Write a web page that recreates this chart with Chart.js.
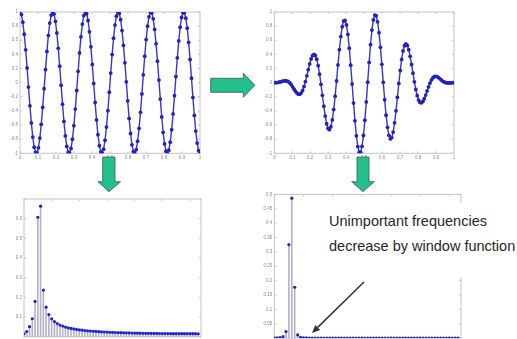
<!DOCTYPE html>
<html><head><meta charset="utf-8">
<script src="https://cdn.jsdelivr.net/npm/chart.js@4.4.0/dist/chart.umd.min.js"></script>
<style>
html,body{margin:0;padding:0;background:#fff;}
#wrap{position:relative;width:517px;height:339px;overflow:hidden;background:#fff;}
canvas{position:absolute;}
svg{position:absolute;left:0;top:0;}
</style></head>
<body><div id="wrap">
<canvas id="tl" width="210" height="165" style="left:0;top:0;width:210px;height:165px"></canvas>
<canvas id="tr" width="262" height="165" style="left:255px;top:0;width:262px;height:165px"></canvas>
<canvas id="bl" width="210" height="170" style="left:0;top:180px;width:210px;height:170px"></canvas>
<canvas id="br" width="262" height="170" style="left:255px;top:180px;width:262px;height:170px"></canvas>
<svg width="517" height="339">
  <polygon points="210.7,78.3 243.3,78.3 243.3,73.3 255,85.3 243.3,97.3 243.3,92.3 210.7,92.3" fill="#23c08d" stroke="#3d5a55" stroke-width="0.8"/>
  <polygon points="102.7,157 115,157 115,181.7 120.5,181.7 109,191.7 98,181.7 102.7,181.7" fill="#23c08d" stroke="#3d5a55" stroke-width="0.8"/>
  <polygon points="357,157 369,157 369,181.7 374.3,181.7 363,191.7 351.7,181.7 357,181.7" fill="#23c08d" stroke="#3d5a55" stroke-width="0.8"/>
  <rect x="322" y="203" width="195" height="75" fill="#fff"/>
  <text x="329" y="226" font-family="Liberation Sans, Arial, sans-serif" font-size="14.5" fill="#262626">Unimportant frequencies</text>
  <text x="329" y="250.5" font-family="Liberation Sans, Arial, sans-serif" font-size="14.5" fill="#262626">decrease by window function</text>
  <line x1="364" y1="282" x2="317.7" y2="327.4" stroke="#333" stroke-width="1.5"/>
  <polygon points="312,333 320.2,329.9 315.3,324.9" fill="#333"/>
</svg>
</div>
<script>
// sample times (128 samples over 0..1)
const sampleTimes = [0,0.0079,0.0157,0.0236,0.0315,0.0394,0.0472,0.0551,0.0630,0.0709,0.0787,0.0866,0.0945,0.1024,0.1102,0.1181,0.1260,0.1339,0.1417,0.1496,0.1575,0.1654,0.1732,0.1811,0.1890,0.1969,0.2047,0.2126,0.2205,0.2283,0.2362,0.2441,0.2520,0.2598,0.2677,0.2756,0.2835,0.2913,0.2992,0.3071,0.3150,0.3228,0.3307,0.3386,0.3465,0.3543,0.3622,0.3701,0.3780,0.3858,0.3937,0.4016,0.4094,0.4173,0.4252,0.4331,0.4409,0.4488,0.4567,0.4646,0.4724,0.4803,0.4882,0.4961,0.5039,0.5118,0.5197,0.5276,0.5354,0.5433,0.5512,0.5591,0.5669,0.5748,0.5827,0.5906,0.5984,0.6063,0.6142,0.6220,0.6299,0.6378,0.6457,0.6535,0.6614,0.6693,0.6772,0.6850,0.6929,0.7008,0.7087,0.7165,0.7244,0.7323,0.7402,0.7480,0.7559,0.7638,0.7717,0.7795,0.7874,0.7953,0.8031,0.8110,0.8189,0.8268,0.8346,0.8425,0.8504,0.8583,0.8661,0.8740,0.8819,0.8898,0.8976,0.9055,0.9134,0.9213,0.9291,0.9370,0.9449,0.9528,0.9606,0.9685,0.9764,0.9843,0.9921,1];

// raw signal (top left)
const rawSignal = [1,0.963,0.855,0.685,0.464,0.209,-0.062,-0.328,-0.570,-0.770,-0.913,-0.989,-0.992,-0.923,-0.785,-0.590,-0.351,-0.086,0.184,0.442,0.667,0.843,0.956,1.000,0.970,0.868,0.703,0.486,0.233,-0.037,-0.304,-0.549,-0.754,-0.903,-0.985,-0.995,-0.932,-0.800,-0.609,-0.374,-0.111,0.160,0.420,0.648,0.829,0.949,0.999,0.975,0.880,0.720,0.507,0.257,-0.012,-0.281,-0.528,-0.737,-0.892,-0.980,-0.997,-0.941,-0.815,-0.629,-0.397,-0.136,0.136,0.397,0.629,0.815,0.941,0.997,0.980,0.892,0.737,0.528,0.281,0.012,-0.257,-0.507,-0.720,-0.880,-0.975,-0.999,-0.949,-0.829,-0.648,-0.420,-0.160,0.111,0.374,0.609,0.800,0.932,0.995,0.985,0.903,0.754,0.549,0.304,0.037,-0.233,-0.486,-0.703,-0.868,-0.970,-1.000,-0.956,-0.843,-0.667,-0.442,-0.184,0.086,0.351,0.590,0.785,0.923,0.992,0.989,0.913,0.770,0.570,0.328,0.062,-0.209,-0.464,-0.685,-0.855,-0.963,-1.000];

// windowed signal (top right)
const windowedSignal = [0,0.000,0.001,0.004,0.009,0.015,0.021,0.026,0.027,0.023,0.013,-0.005,-0.030,-0.060,-0.092,-0.123,-0.148,-0.163,-0.164,-0.147,-0.111,-0.056,0.015,0.097,0.183,0.265,0.335,0.382,0.400,0.384,0.331,0.240,0.120,-0.024,-0.180,-0.334,-0.473,-0.582,-0.649,-0.665,-0.624,-0.528,-0.380,-0.191,0.025,0.251,0.466,0.652,0.792,0.871,0.880,0.816,0.682,0.488,0.247,-0.019,-0.289,-0.541,-0.752,-0.905,-0.984,-0.984,-0.903,-0.748,-0.532,-0.273,0.007,0.286,0.538,0.744,0.888,0.956,0.947,0.861,0.707,0.500,0.259,0.004,-0.242,-0.460,-0.632,-0.746,-0.796,-0.778,-0.699,-0.568,-0.399,-0.208,-0.012,0.172,0.329,0.449,0.522,0.548,0.527,0.466,0.372,0.257,0.134,0.012,-0.097,-0.185,-0.247,-0.280,-0.286,-0.267,-0.228,-0.176,-0.118,-0.060,-0.007,0.036,0.066,0.084,0.089,0.084,0.072,0.056,0.038,0.023,0.010,0.001,-0.004,-0.005,-0.004,-0.002,-0.001,0];

// frequency bins
const freqBins = [0,1,2,3,4,5,6,7,8,9,10,11,12,13,14,15,16,17,18,19,20,21,22,23,24,25,26,27,28,29,30,31,32,33,34,35,36,37,38,39,40,41,42,43,44,45,46,47,48,49,50,51,52,53,54,55,56,57,58,59,60,61,62,63];

// spectrum without window (bottom left)
const rawSpectrum = [0.0156,0.0269,0.0512,0.0916,0.1799,0.6072,0.6637,0.2373,0.1507,0.1128,0.0914,0.0773,0.0675,0.0600,0.0543,0.0496,0.0458,0.0426,0.0399,0.0375,0.0355,0.0337,0.0321,0.0306,0.0294,0.0282,0.0272,0.0262,0.0253,0.0245,0.0238,0.0231,0.0225,0.0219,0.0214,0.0209,0.0205,0.0201,0.0197,0.0193,0.0190,0.0186,0.0183,0.0181,0.0178,0.0176,0.0174,0.0172,0.0170,0.0168,0.0166,0.0165,0.0164,0.0162,0.0161,0.0160,0.0159,0.0159,0.0158,0.0158,0.0157,0.0157,0.0157,0.0156];

// spectrum with window (bottom right)
const windowedSpectrum = [0.001,0.001,0.002,0.005,0.023,0.325,0.487,0.177,0.011,0.003,0.0013,0.0007,0.0004,0.0003,0.0002,0.0002,0.0002,0.0002,0.0002,0.0002,0.0002,0.0002,0.0002,0.0002,0.0002,0.0002,0.0001,0.0001,0.0001,0.0001,0.0001,0.0001,0.0001,0.0001,0.0001,0.0001,0.0001,0.0001,0.0001,0.0001,0.0001,0.0001,0.0001,0.0001,0.0001,0.0001,0.0001,0.0001,0.0001,0.0001,0.0001,0.0001,0.0001,0.0001,0.0001,0.0001,0.0001,0.0001,0.0001,0.0001,0.0001,0.0001,0.0001,0.0001];

// tick values and labels
const timeTickValues = [0,0.1,0.2,0.3,0.4,0.5,0.6,0.7,0.8,0.9,1];
const timeTickLabels = ['0','0.1','0.2','0.3','0.4','0.5','0.6','0.7','0.8','0.9','1'];
const ampTickValues = [-1,-0.8,-0.6,-0.4,-0.2,0,0.2,0.4,0.6,0.8,1];
const ampTickLabels = ['-1','-0.8','-0.6','-0.4','-0.2','0','0.2','0.4','0.6','0.8','1'];
const binTickValues = [0,10,20,30,40,50,60];
const binTickLabels = ['0','10','20','30','40','50','60'];
const rawSpecTickValues = [0,0.1,0.2,0.3,0.4,0.5,0.6,0.7];
const rawSpecTickLabels = ['','0.1','0.2','0.3','0.4','0.5','0.6',''];
const winSpecTickValues = [0,0.05,0.1,0.15,0.2,0.25,0.3,0.35,0.4,0.45,0.5];
const winSpecTickLabels = ['','0.05','0.1','0.15','0.2','0.25','0.3','0.35','0.4','0.45','0.5'];

const TICK_FONT = {family:'Liberation Sans, Arial, sans-serif', size:4.5};
const TICK_COLOR = '#8a8a8a';

const framePlugin = {
  id:'frame',
  beforeDatasetsDraw(chart){
    const {ctx, chartArea:{left,top,right,bottom}, scales:{x,y}} = chart;
    ctx.save();
    ctx.strokeStyle = '#c4c4c4';
    ctx.lineWidth = 1;
    ctx.strokeRect(left, top, right-left, bottom-top);
    ctx.beginPath();
    x.ticks.forEach(t => {
      const px = x.getPixelForValue(t.value);
      ctx.moveTo(px, bottom); ctx.lineTo(px, bottom-2);
      ctx.moveTo(px, top); ctx.lineTo(px, top+2);
    });
    y.ticks.forEach(t => {
      const py = y.getPixelForValue(t.value);
      ctx.moveTo(left, py); ctx.lineTo(left+2, py);
      ctx.moveTo(right, py); ctx.lineTo(right-2, py);
    });
    ctx.stroke();
    ctx.restore();
  }
};

function axis(min, max, tickVals, tickLabels, fitProp, fitVal){
  return {
    type:'linear', min, max, offset:false,
    grid:{display:false, drawTicks:false},
    border:{display:false},
    afterBuildTicks(s){ s.ticks = tickVals.map(v => ({value:v})); },
    afterFit(s){ s[fitProp] = fitVal; },
    ticks:{ font:TICK_FONT, color:TICK_COLOR, padding:2, autoSkip:false, maxRotation:0,
      callback:(v,i) => tickLabels[i] }
  };
}

function lineChart(id, ys, geo){
  new Chart(document.getElementById(id), {
    type:'line',
    data:{datasets:[{
      data: sampleTimes.map((t,i) => ({x:t, y:ys[i]})),
      borderColor:'#3535d2', borderWidth:1.4, tension:0,
      pointRadius:1.9, pointBackgroundColor:'#2222bf', pointBorderWidth:0
    }]},
    options:{
      responsive:false, animation:false, devicePixelRatio:1,
      layout:{padding:{left:0, top:geo.top, right:geo.right, bottom:0}},
      plugins:{legend:{display:false}, tooltip:{enabled:false}},
      scales:{
        x: axis(0, 1, timeTickValues, timeTickLabels, 'height', geo.xh),
        y: axis(-1, 1, ampTickValues, ampTickLabels, 'width', geo.yw)
      }
    },
    plugins:[framePlugin]
  });
}

function stemChart(id, vals, ymax, yTickVals, yTickLabels, geo){
  const pts = freqBins.map((b,i) => ({x:b, y:vals[i]}));
  new Chart(document.getElementById(id), {
    data:{datasets:[
      {type:'bar', data:pts, backgroundColor:'#b4b4c6', barThickness:1, order:2},
      {type:'line', data:pts, showLine:false, pointRadius:1.6, pointBackgroundColor:'#2323c8', pointBorderWidth:0, order:1}
    ]},
    options:{
      responsive:false, animation:false, devicePixelRatio:1,
      layout:{padding:{left:0, top:geo.top, right:geo.right, bottom:0}},
      plugins:{legend:{display:false}, tooltip:{enabled:false}},
      scales:{
        x: axis(0, 64, binTickValues, binTickLabels, 'height', geo.xh),
        y: axis(0, ymax, yTickVals, yTickLabels, 'width', geo.yw)
      }
    },
    plugins:[framePlugin]
  });
}

lineChart('tl', rawSignal, {top:12, right:10, xh:11.7, yw:20});
lineChart('tr', windowedSignal, {top:12, right:63, xh:11.7, yw:19.3});
stemChart('bl', rawSpectrum, 0.7, rawSpecTickValues, rawSpecTickLabels, {top:19, right:9, xh:13.2, yw:24});
stemChart('br', windowedSpectrum, 0.5, winSpecTickValues, winSpecTickLabels, {top:14.4, right:56, xh:11.9, yw:19.3});
</script>
</body></html>
